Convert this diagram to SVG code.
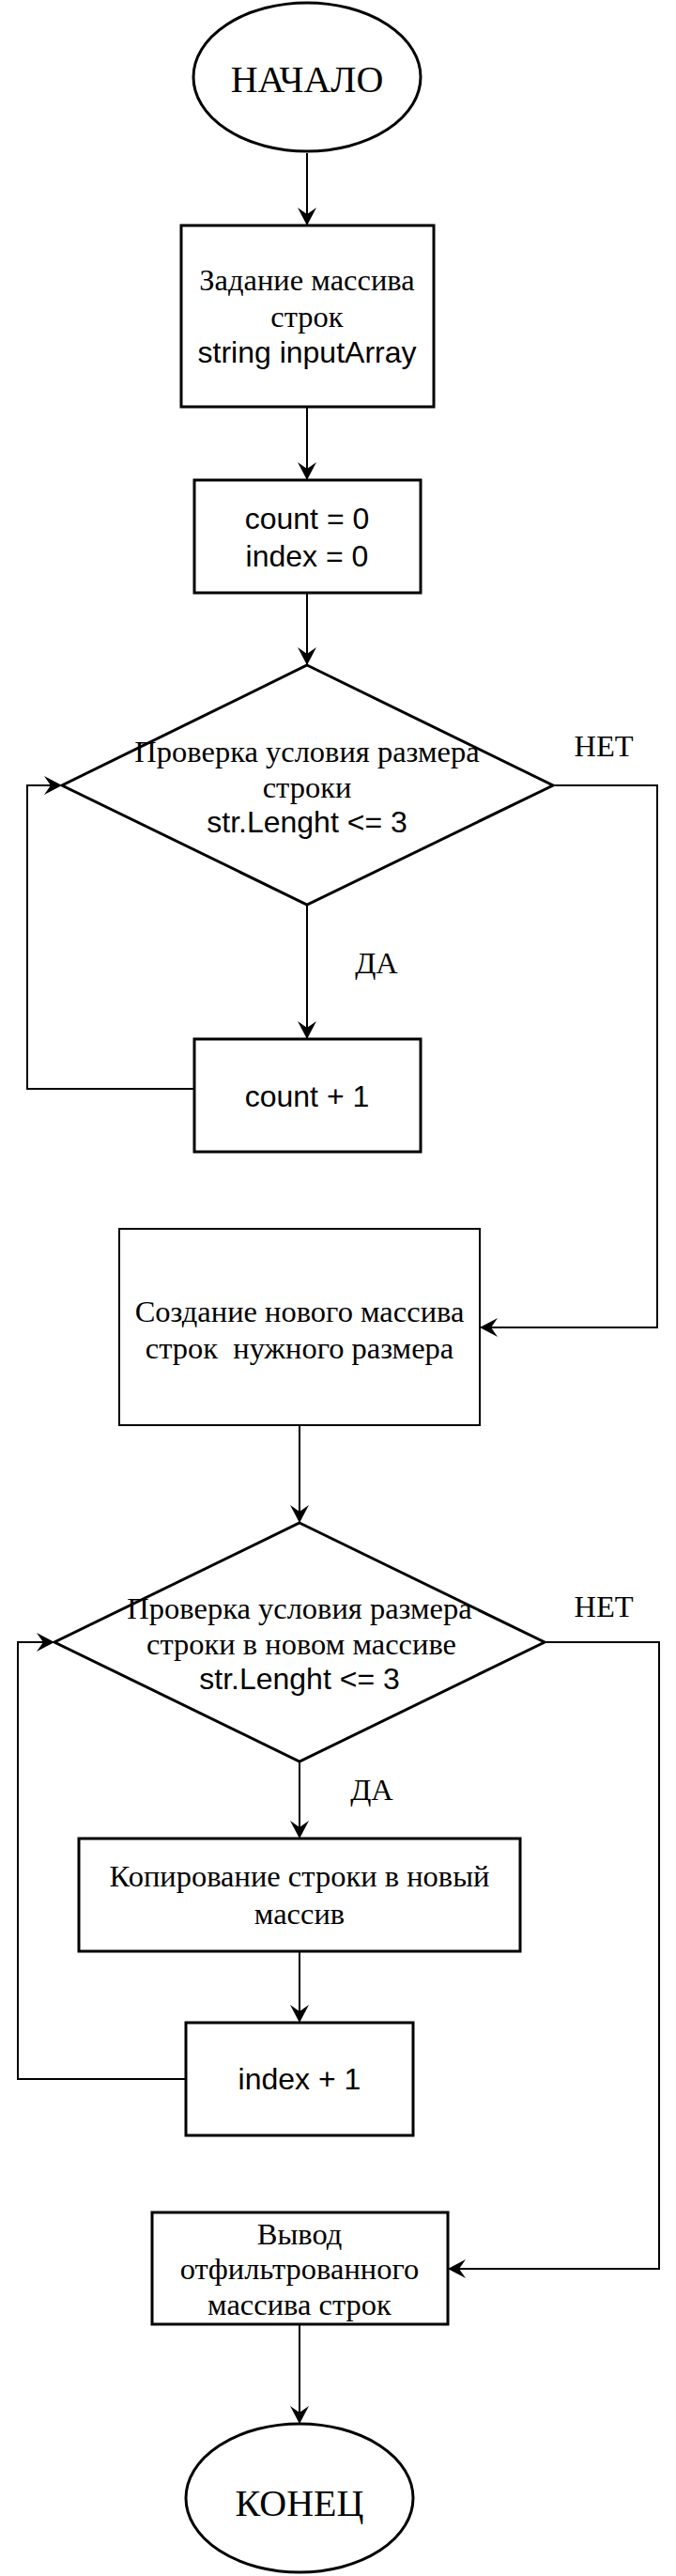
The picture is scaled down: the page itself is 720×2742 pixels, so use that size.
<svg xmlns="http://www.w3.org/2000/svg" width="720" height="2742" viewBox="0 0 720 2742">
<style>
.bg{fill:#fff}
.n{fill:#fff;stroke:#000;stroke-width:3}
.thin{fill:#fff;stroke:#000;stroke-width:2}
.c{fill:none;stroke:#000;stroke-width:2}
.s{font-family:"Liberation Serif","Times New Roman",serif;font-size:32.5px;fill:#000;text-anchor:middle}
.a{font-family:"Liberation Sans",Arial,sans-serif;font-size:32px;fill:#000;text-anchor:middle}
.t{font-family:"Liberation Serif","Times New Roman",serif;font-size:40px;fill:#000;text-anchor:middle}
</style>
<defs>
<marker id="arr" markerUnits="userSpaceOnUse" viewBox="-20 -11 22 22" markerWidth="22" markerHeight="22" refX="0" refY="0" orient="auto">
<path d="M0,0 L-19,-10 L-12,0 L-19,10 Z" fill="#000"/>
</marker>
</defs>
<rect class="bg" x="0" y="0" width="720" height="2742"/>
<g id="connectors">
<path class="c" d="M327,163 L327,240" marker-end="url(#arr)"/>
<path class="c" d="M327,433 L327,511" marker-end="url(#arr)"/>
<path class="c" d="M327,631 L327,708" marker-end="url(#arr)"/>
<path class="c" d="M327,963 L327,1106" marker-end="url(#arr)"/>
<path class="c" d="M207,1159 L29,1159 L29,836 L66,836" marker-end="url(#arr)"/>
<path class="c" d="M589,836 L700,836 L700,1413 L511,1413" marker-end="url(#arr)"/>
<path class="c" d="M319,1517 L319,1621" marker-end="url(#arr)"/>
<path class="c" d="M319,1875 L319,1957" marker-end="url(#arr)"/>
<path class="c" d="M319,2077 L319,2153" marker-end="url(#arr)"/>
<path class="c" d="M198,2213 L19,2213 L19,1748 L58,1748" marker-end="url(#arr)"/>
<path class="c" d="M580,1748 L702,1748 L702,2415 L477,2415" marker-end="url(#arr)"/>
<path class="c" d="M319,2474 L319,2580" marker-end="url(#arr)"/>
<text class="s" x="643" y="805">НЕТ</text>
<text class="s" x="401" y="1036">ДА</text>
<text class="s" x="643" y="1721">НЕТ</text>
<text class="s" x="396" y="1916">ДА</text>
</g>
<g id="start">
<ellipse class="n" cx="327" cy="82" rx="121" ry="79"/>
<text class="t" x="327" y="98">НАЧАЛО</text>
</g>
<g id="input">
<rect class="n" x="193" y="240" width="269" height="193"/>
<text class="s" x="327" y="309">Задание массива</text>
<text class="s" x="327" y="348">строк</text>
<text class="a" x="327" y="386">string inputArray</text>
</g>
<g id="init">
<rect class="n" x="207" y="511" width="241" height="120"/>
<text class="a" x="327" y="563">count = 0</text>
<text class="a" x="327" y="603">index = 0</text>
</g>
<g id="check1">
<polygon class="n" points="327,708 589,836 327,963 66,836"/>
<text class="s" x="327" y="811">Проверка условия размера</text>
<text class="s" x="327" y="849">строки</text>
<text class="a" x="327" y="886">str.Lenght &lt;= 3</text>
</g>
<g id="countInc">
<rect class="n" x="207" y="1106" width="241" height="120"/>
<text class="a" x="327" y="1178">count + 1</text>
</g>
<g id="create">
<rect class="thin" x="127" y="1308" width="384" height="209"/>
<text class="s" x="319" y="1407">Создание нового массива</text>
<text class="s" x="319" y="1446" xml:space="preserve">строк  нужного размера</text>
</g>
<g id="check2">
<polygon class="n" points="319,1621 580,1748 319,1875 58,1748"/>
<text class="s" x="319" y="1723">Проверка условия размера</text>
<text class="s" x="321" y="1761">строки в новом массиве</text>
<text class="a" x="319" y="1798">str.Lenght &lt;= 3</text>
</g>
<g id="copy">
<rect class="n" x="84" y="1957" width="470" height="120"/>
<text class="s" x="319" y="2008">Копирование строки в новый</text>
<text class="s" x="319" y="2048">массив</text>
</g>
<g id="indexInc">
<rect class="n" x="198" y="2153" width="242" height="120"/>
<text class="a" x="319" y="2224">index + 1</text>
</g>
<g id="output">
<rect class="n" x="162" y="2355" width="315" height="119"/>
<text class="s" x="319" y="2389">Вывод</text>
<text class="s" x="319" y="2426">отфильтрованного</text>
<text class="s" x="319" y="2464">массива строк</text>
</g>
<g id="end">
<ellipse class="n" cx="319" cy="2659" rx="121" ry="79"/>
<text class="t" x="319" y="2678">КОНЕЦ</text>
</g>
</svg>
